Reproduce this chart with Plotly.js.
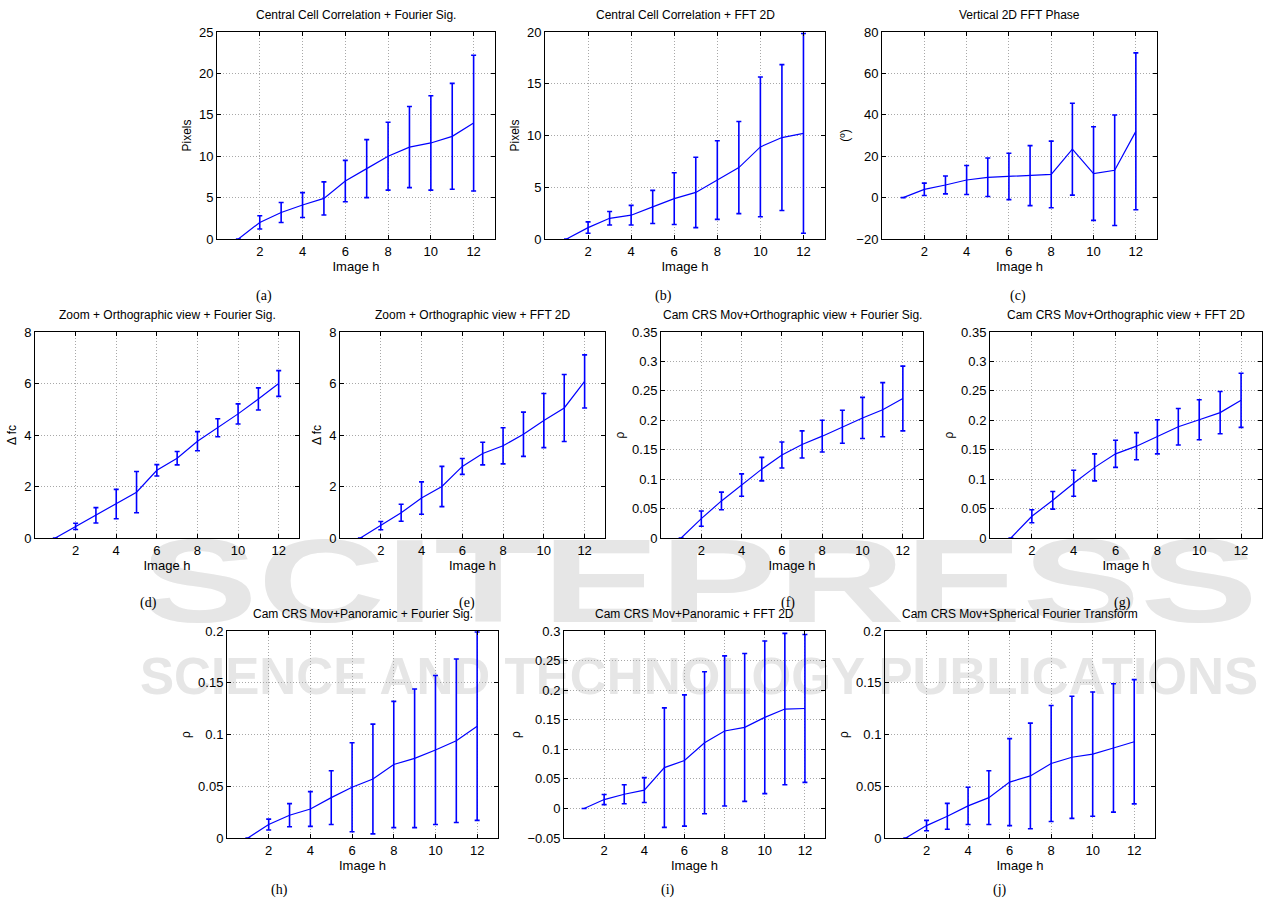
<!DOCTYPE html>
<html>
<head>
<meta charset="utf-8">
<script src="https://cdn.plot.ly/plotly-3.0.1.min.js"></script>
<style>
  html, body { margin: 0; padding: 0; background: #ffffff; }
  #wrap { position: relative; width: 1266px; height: 905px; }
  #wm { position: absolute; left: 0; top: 0; width: 1266px; height: 905px; z-index: 0; }
  #chart { position: absolute; left: 0; top: 0; width: 1266px; height: 905px; z-index: 1; }
</style>
</head>
<body>
<div id="wrap">
  <svg id="wm" width="1266" height="905" xmlns="http://www.w3.org/2000/svg">
    <text x="140" y="622" font-family="Liberation Sans, Arial, sans-serif" font-weight="bold" font-size="118" fill="#e6e6e6" textLength="1118" lengthAdjust="spacingAndGlyphs">SCITEPRESS</text>
    <text x="140" y="694" font-family="Liberation Sans, Arial, sans-serif" font-weight="bold" font-size="52" fill="#e6e6e6" textLength="1118" lengthAdjust="spacingAndGlyphs">SCIENCE AND TECHNOLOGY PUBLICATIONS</text>
  </svg>
  <div id="chart"></div>
</div>
<script>
// ---------------- data ----------------
const imageH = [1, 2, 3, 4, 5, 6, 7, 8, 9, 10, 11, 12];
const xTickVals = [2, 4, 6, 8, 10, 12];

const panelTitles = [
  "Central Cell Correlation + Fourier Sig.",
  "Central Cell Correlation + FFT 2D",
  "Vertical 2D FFT Phase",
  "Zoom + Orthographic view + Fourier Sig.",
  "Zoom + Orthographic view + FFT 2D",
  "Cam CRS Mov+Orthographic view + Fourier Sig.",
  "Cam CRS Mov+Orthographic view + FFT 2D",
  "Cam CRS Mov+Panoramic + Fourier Sig.",
  "Cam CRS Mov+Panoramic + FFT 2D",
  "Cam CRS Mov+Spherical Fourier Transform"
];
const panelLetters = ["(a)", "(b)", "(c)", "(d)", "(e)", "(f)", "(g)", "(h)", "(i)", "(j)"];
const yTitles = ["Pixels", "Pixels", "(º)", "Δ fc", "Δ fc", "ρ", "ρ", "ρ", "ρ", "ρ"];

// (a)
const meanA = [0, 2.0, 3.2, 4.1, 4.9, 7.0, 8.5, 10.0, 11.1, 11.6, 12.4, 14.0];
const errA  = [0, 0.8, 1.2, 1.5, 2.0, 2.5, 3.5, 4.1, 4.9, 5.7, 6.4, 8.2];
// (b)
const meanB = [0, 1.1, 2.0, 2.3, 3.1, 3.9, 4.5, 5.7, 6.9, 8.9, 9.8, 10.2];
const errB  = [0, 0.55, 0.65, 0.95, 1.6, 2.5, 3.4, 3.8, 4.45, 6.75, 7.05, 9.65];
// (c)
const meanC = [0, 4.0, 6.1, 8.5, 9.8, 10.2, 10.6, 11.2, 23.4, 11.6, 13.2, 32.0];
const errC  = [0, 3.0, 4.3, 7.0, 9.3, 11.2, 14.5, 16.1, 22.2, 22.6, 26.7, 37.9];
// (d)
const meanD = [0, 0.45, 0.88, 1.32, 1.78, 2.63, 3.1, 3.76, 4.28, 4.82, 5.4, 6.0];
const errD  = [0, 0.12, 0.3, 0.57, 0.8, 0.22, 0.26, 0.37, 0.35, 0.39, 0.43, 0.5];
// (e)
const meanE = [0, 0.48, 0.98, 1.55, 2.0, 2.78, 3.28, 3.58, 4.03, 4.56, 5.05, 6.08];
const errE  = [0, 0.16, 0.33, 0.63, 0.78, 0.31, 0.44, 0.7, 0.86, 1.05, 1.3, 1.03];
// (f)
const meanF = [0, 0.033, 0.063, 0.09, 0.117, 0.141, 0.159, 0.173, 0.189, 0.204, 0.218, 0.237];
const errF  = [0, 0.013, 0.015, 0.019, 0.02, 0.022, 0.023, 0.027, 0.028, 0.035, 0.046, 0.055];
// (g)
const meanG = [0, 0.037, 0.064, 0.093, 0.12, 0.143, 0.156, 0.172, 0.189, 0.201, 0.213, 0.234];
const errG  = [0, 0.011, 0.015, 0.022, 0.023, 0.023, 0.023, 0.029, 0.031, 0.034, 0.036, 0.046];
// (h)
const meanH = [0, 0.013, 0.022, 0.028, 0.039, 0.049, 0.057, 0.071, 0.077, 0.085, 0.094, 0.108];
const errH  = [0, 0.0052, 0.0112, 0.0168, 0.026, 0.043, 0.053, 0.061, 0.067, 0.072, 0.079, 0.091];
// (i)
const meanI = [0, 0.015, 0.024, 0.031, 0.069, 0.081, 0.111, 0.131, 0.137, 0.154, 0.168, 0.169];
const errI  = [0, 0.0085, 0.016, 0.021, 0.101, 0.111, 0.12, 0.127, 0.125, 0.129, 0.128, 0.125];
// (j)
const meanJ = [0, 0.012, 0.021, 0.031, 0.039, 0.054, 0.06, 0.072, 0.078, 0.081, 0.087, 0.093];
const errJ  = [0, 0.005, 0.0125, 0.018, 0.026, 0.042, 0.051, 0.056, 0.059, 0.06, 0.062, 0.06];

const means = [meanA, meanB, meanC, meanD, meanE, meanF, meanG, meanH, meanI, meanJ];
const errs  = [errA, errB, errC, errD, errE, errF, errG, errH, errI, errJ];
const yRanges = [[0, 25], [0, 20], [-20, 80], [0, 8], [0, 8], [0, 0.35], [0, 0.35], [0, 0.2], [-0.05, 0.3], [0, 0.2]];
const yDticks = [5, 5, 20, 2, 2, 0.05, 0.05, 0.05, 0.05, 0.05];

// ---------------- layout (pixel boxes) ----------------
const W = 1266, H = 905;
const boxes = [
  [217, 495, 32, 239], [545, 825, 32, 239], [882, 1157, 32, 239],
  [35, 299, 332, 538], [340, 605, 332, 538], [661, 923, 332, 538], [990, 1262, 332, 538],
  [227, 498, 631, 838], [564, 825, 631, 838], [885, 1155, 631, 838]
];
const letterPos = [
  [264, 296], [663, 296], [1018, 296],
  [148, 603], [467, 603], [788, 603], [1122, 603],
  [279, 890], [668, 890], [1000, 890]
];

const FONT = "Liberation Sans, Arial, Helvetica, sans-serif";
const BLUE = "#0000ff";

const data = [];
const layout = {
  width: W, height: H,
  margin: {l: 0, r: 0, t: 0, b: 0},
  paper_bgcolor: "rgba(0,0,0,0)",
  plot_bgcolor: "rgba(0,0,0,0)",
  showlegend: false,
  font: {family: FONT, color: "#000", size: 13},
  annotations: []
};

for (let i = 0; i < 10; i++) {
  const n = i === 0 ? "" : String(i + 1);
  const b = boxes[i];
  data.push({
    type: "scatter", mode: "lines",
    x: imageH, y: means[i],
    xaxis: "x" + n, yaxis: "y" + n,
    line: {color: BLUE, width: 1.2},
    error_y: {type: "data", array: errs[i], visible: true, color: BLUE, thickness: 1.6, width: 2.5},
    hoverinfo: "skip"
  });
  const common = {
    showline: true, linecolor: "#000", linewidth: 1, mirror: "ticks",
    ticks: "inside", ticklen: 4, tickcolor: "#000", tickwidth: 1,
    showgrid: true, gridcolor: "#a8a8a8", griddash: "1px,2px", gridwidth: 1,
    zeroline: false, fixedrange: true,
    tickfont: {family: FONT, size: 13, color: "#000"}
  };
  layout["xaxis" + n] = Object.assign({}, common, {
    domain: [b[0] / W, b[1] / W],
    anchor: "y" + n,
    range: [0, 13],
    tickmode: "array", tickvals: xTickVals,
    title: {text: "Image h", font: {family: FONT, size: 13, color: "#000"}, standoff: 0}
  });
  layout["yaxis" + n] = Object.assign({}, common, {
    domain: [1 - b[3] / H, 1 - b[2] / H],
    anchor: "x" + n,
    range: yRanges[i],
    dtick: yDticks[i], tick0: 0,
    title: {text: yTitles[i], font: {family: FONT, size: 12, color: "#000"}, standoff: 4}
  });
  layout.annotations.push({
    xref: "paper", yref: "paper",
    x: (b[0] + b[1]) / 2 / W, y: 1 - (b[2] - 8) / H,
    xanchor: "center", yanchor: "bottom",
    text: panelTitles[i], showarrow: false,
    font: {family: FONT, size: 12, color: "#000"}
  });
  layout.annotations.push({
    xref: "paper", yref: "paper",
    x: letterPos[i][0] / W, y: 1 - letterPos[i][1] / H,
    xanchor: "center", yanchor: "middle",
    text: panelLetters[i], showarrow: false,
    font: {family: "Liberation Serif, Times New Roman, serif", size: 14, color: "#000"}
  });
}

Plotly.newPlot("chart", data, layout, {displayModeBar: false, staticPlot: true});
</script>
</body>
</html>
